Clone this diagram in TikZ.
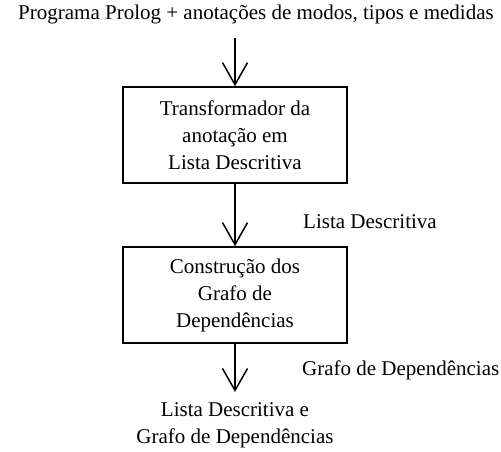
\documentclass[tikz,border=0pt]{standalone}
\usepackage{fontspec}
\setmainfont{Liberation Serif}
\usetikzlibrary{arrows.meta}
\begin{document}
\begin{tikzpicture}[x=1pt,y=1pt,
  every node/.style={font=\fontsize{21}{27}\selectfont, inner sep=0pt},
  procbox/.style={draw, line width=1.6pt, minimum width=224pt, minimum height=96pt, align=center},
  flow/.style={line width=1.5pt, -{Straight Barb[length=22pt,width=25pt,line width=1.5pt]}},
  lbl/.style={anchor=west}]
\useasboundingbox (0,0) rectangle (501,452);
\node (top) at (256,438) {Programa Prolog + anotações de modos, tipos e medidas};
\coordinate (start) at (235,414);
\node[procbox] (b1) at (235,317) {Transformador da\\anotação em\\Lista Descritiva};
\node[procbox] (b2) at (235,157) {Construção dos\\Grafo de\\Dependências};
\coordinate (end) at (235,60);
\node[align=center] (out) at (235,26.5) {Lista Descritiva e\\Grafo de Dependências};
\node[lbl] (l1) at (303,230) {Lista Descritiva};
\node[lbl] (l2) at (302,82) {Grafo de Dependências};
\draw[flow] (start) -- (b1.north);
\draw[flow] (b1.south) -- (b2.north);
\draw[flow] (b2.south) -- (end);
\end{tikzpicture}
\end{document}
